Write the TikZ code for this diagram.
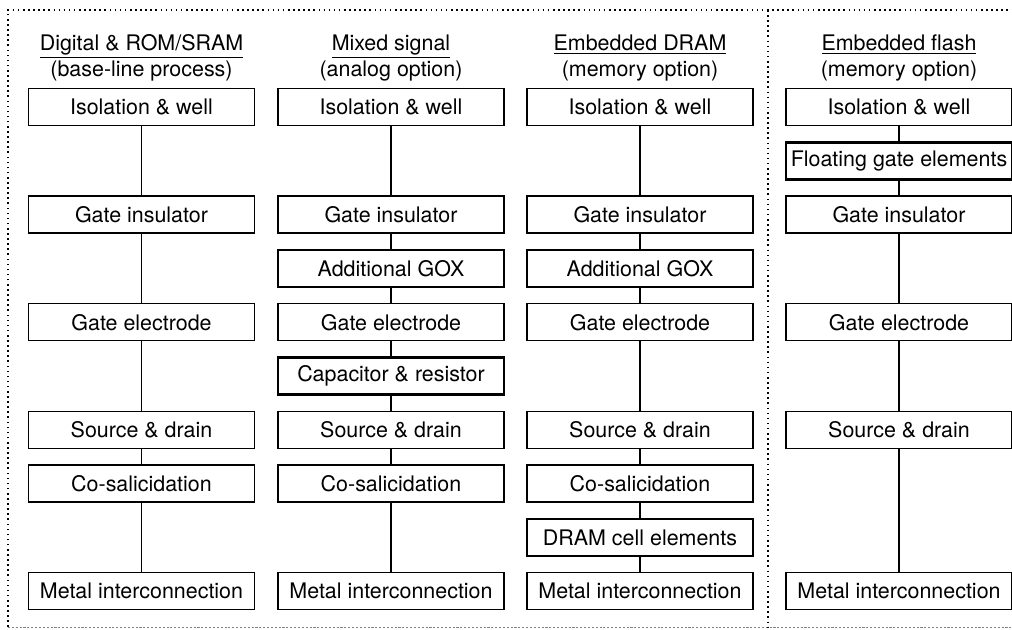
\documentclass[tikz,border=0pt]{standalone}
\usepackage{fontspec}
\setmainfont{TeX Gyre Heros}
\usepackage{tikz}
\usetikzlibrary{positioning}

\begin{document}
\begin{tikzpicture}[
    proc/.style = {draw, line width=0.7pt, minimum width=4.52cm, minimum height=0.74cm,
                   inner sep=0pt, font=\fontsize{12.2}{14}\selectfont},
    extra/.style = {proc, line width=1.4pt},
    head/.style = {align=center, font=\fontsize{12.2}{15}\selectfont}]
  \useasboundingbox (0,0) rectangle (20.24,-12.58);

  % frame and divider
  \draw [dotted, line width=0.9pt] (0.16,-12.54) -- (0.16,-0.2) -- (20.3,-0.2);
  \draw [gray, dash pattern=on 1.2pt off 1pt, line width=0.5pt] (0.16,-12.54) -- (20.3,-12.54);
  \draw [dotted, line width=0.9pt] (15.36,-0.2) -- (15.36,-12.54);

  % headings
  \node (h1) [head] at (2.83,-1.16) {\underline{Digital \& ROM/SRAM}\\(base-line process)};
  \node (h2) [head] at (7.82,-1.16) {\underline{Mixed signal}\\(analog option)};
  \node (h3) [head] at (12.80,-1.16) {\underline{Embedded DRAM}\\(memory option)};
  \node (h4) [head] at (17.98,-1.16) {\underline{Embedded flash}\\(memory option)};

  % digital
  \node (d1) [proc] at (2.83,-2.14) {Isolation \& well};
  \node (d2) [proc] at (2.83,-4.292) {Gate insulator};
  \node (d3) [proc] at (2.83,-6.444) {Gate electrode};
  \node (d4) [proc] at (2.83,-8.596) {Source \& drain};
  \node (d5) [proc] at (2.83,-9.672) {Co-salicidation};
  \node (d6) [proc] at (2.83,-11.824) {Metal interconnection};

  % mixed signal
  \node (m1) [proc] at (7.82,-2.14) {Isolation \& well};
  \node (m2) [proc] at (7.82,-4.292) {Gate insulator};
  \node (m3) [extra] at (7.82,-5.368) {Additional GOX};
  \node (m4) [proc] at (7.82,-6.444) {Gate electrode};
  \node (m5) [extra] at (7.82,-7.520) {Capacitor \& resistor};
  \node (m6) [proc] at (7.82,-8.596) {Source \& drain};
  \node (m7) [proc] at (7.82,-9.672) {Co-salicidation};
  \node (m8) [proc] at (7.82,-11.824) {Metal interconnection};

  % embedded DRAM
  \node (e1) [proc] at (12.80,-2.14) {Isolation \& well};
  \node (e2) [proc] at (12.80,-4.292) {Gate insulator};
  \node (e3) [extra] at (12.80,-5.368) {Additional GOX};
  \node (e4) [proc] at (12.80,-6.444) {Gate electrode};
  \node (e5) [proc] at (12.80,-8.596) {Source \& drain};
  \node (e6) [proc] at (12.80,-9.672) {Co-salicidation};
  \node (e7) [extra] at (12.80,-10.748) {DRAM cell elements};
  \node (e8) [proc] at (12.80,-11.824) {Metal interconnection};

  % embedded flash
  \node (f1) [proc] at (17.98,-2.14) {Isolation \& well};
  \node (f2) [extra] at (17.98,-3.216) {Floating gate elements};
  \node (f3) [proc] at (17.98,-4.292) {Gate insulator};
  \node (f4) [proc] at (17.98,-6.444) {Gate electrode};
  \node (f5) [proc] at (17.98,-8.596) {Source \& drain};
  \node (f6) [proc] at (17.98,-11.824) {Metal interconnection};

  \path [draw, line width=0.6pt]
    (d1) -- (d2) (d2) -- (d3) (d3) -- (d4) (d4) -- (d5) (d5) -- (d6)
    (m1) -- (m2) (m2) -- (m3) (m3) -- (m4) (m4) -- (m5) (m5) -- (m6) (m6) -- (m7) (m7) -- (m8)
    (e1) -- (e2) (e2) -- (e3) (e3) -- (e4) (e4) -- (e5) (e5) -- (e6) (e6) -- (e7) (e7) -- (e8)
    (f1) -- (f2) (f2) -- (f3) (f3) -- (f4) (f4) -- (f5) (f5) -- (f6);
\end{tikzpicture}
\end{document}
